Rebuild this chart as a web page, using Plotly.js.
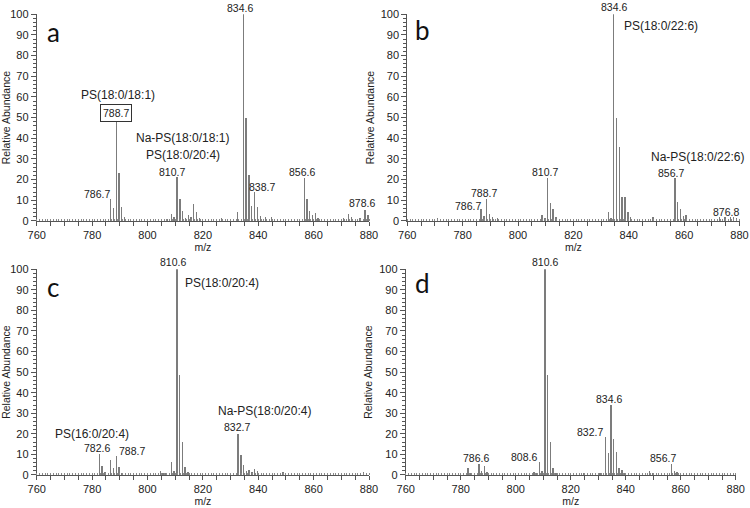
<!DOCTYPE html>
<html>
<head>
<meta charset="utf-8">
<script src="https://cdn.plot.ly/plotly-3.0.1.min.js"></script>
<style>html,body{margin:0;padding:0;background:#fff;}#chart{width:750px;height:508px;}</style>
</head>
<body>
<div id="chart"></div>
<script>
// ---- Data (m/z, relative abundance) ----
const aMz = [760.0, 786.7, 787.7, 788.7, 789.7, 790.7, 791.7, 807.0, 808.6, 809.6, 810.7, 811.7, 812.7, 813.7, 814.7, 815.7, 816.7, 817.7, 818.7, 826.7, 832.6, 834.6, 835.6, 836.6, 837.6, 838.7, 839.7, 840.7, 842.7, 844.7, 856.6, 857.6, 858.6, 859.6, 860.6, 861.6, 870.7, 872.7, 873.7, 876.7, 878.6, 879.6];
const aAb = [2.0, 10.5, 6.3, 50.0, 23.0, 6.8, 1.8, 1.0, 3.2, 2.0, 21.4, 10.6, 5.0, 1.6, 3.0, 2.0, 8.0, 4.2, 1.3, 1.2, 4.5, 100, 50.0, 22.0, 7.4, 13.8, 6.8, 2.4, 1.8, 1.8, 21.0, 10.8, 5.0, 3.0, 3.7, 1.6, 1.4, 3.5, 1.8, 1.3, 5.5, 2.9];

const bMz = [771.0, 786.7, 787.7, 788.7, 789.7, 790.7, 792.7, 808.7, 809.7, 810.7, 811.7, 812.7, 813.7, 832.6, 833.6, 834.6, 835.6, 836.6, 837.6, 838.6, 839.7, 840.7, 848.7, 856.7, 857.7, 858.7, 859.7, 860.7, 872.8, 874.8, 876.8, 877.8, 879.0];
const bAb = [1.2, 5.8, 2.4, 10.5, 3.5, 1.8, 1.3, 3.0, 1.3, 21.0, 8.9, 5.6, 1.8, 4.2, 1.3, 100, 50.0, 35.7, 11.6, 11.6, 4.2, 1.8, 2.0, 20.6, 9.3, 6.0, 2.6, 2.9, 1.8, 1.8, 2.0, 1.8, 1.3];

const cMz = [760.0, 782.6, 783.6, 784.6, 786.7, 787.7, 788.7, 789.7, 790.7, 804.6, 805.6, 806.6, 808.6, 809.6, 810.6, 811.6, 812.6, 813.6, 814.6, 832.7, 833.7, 834.7, 835.7, 836.7, 837.7, 838.7, 839.7, 849.0, 878.0];
const cAb = [1.8, 10.2, 4.5, 1.5, 7.3, 3.6, 9.4, 4.0, 1.1, 1.8, 1.1, 1.1, 6.3, 1.8, 100, 48.4, 16.2, 4.0, 1.3, 19.9, 9.7, 4.9, 1.8, 2.4, 1.3, 2.9, 1.8, 1.3, 1.3];

const dMz = [782.6, 783.6, 786.6, 787.6, 788.6, 789.6, 797.0, 806.6, 807.6, 808.6, 809.6, 810.6, 811.6, 812.6, 813.6, 814.6, 824.6, 830.6, 832.7, 833.7, 834.6, 835.6, 836.6, 837.6, 838.6, 839.6, 848.7, 849.7, 856.7, 857.7, 858.7];
const dAb = [3.6, 1.0, 5.3, 2.1, 4.5, 1.5, 1.0, 1.5, 1.0, 6.1, 1.9, 100, 48.4, 16.2, 3.6, 1.0, 1.0, 1.0, 18.3, 10.5, 34.1, 17.3, 11.0, 3.6, 2.6, 1.0, 1.9, 1.0, 5.3, 2.1, 1.5];

const xTickVals = [760, 765, 770, 775, 780, 785, 790, 795, 800, 805, 810, 815, 820, 825, 830, 835, 840, 845, 850, 855, 860, 865, 870, 875, 880];
const xTickText = ['760', '', '', '', '780', '', '', '', '800', '', '', '', '820', '', '', '', '840', '', '', '', '860', '', '', '', '880'];
const yTickVals = [0, 10, 20, 30, 40, 50, 60, 70, 80, 90, 100];

const panelLetters = ['a', 'b', 'c', 'd'];

// peak / compound labels: [text, m/z, abundance, kind]
const aLabels = [['834.6', 833.4, 103.2, 'n'], ['PS(18:0/18:1)', 789.3, 60.9, 'c'], ['788.7', 788.7, 52.0, 'box'],
  ['Na-PS(18:0/18:1)', 812.8, 40.0, 'c'], ['PS(18:0/20:4)', 812.8, 31.9, 'c'], ['810.7', 809.0, 23.8, 'n'],
  ['786.7', 781.6, 13.0, 'n'], ['838.7', 841.2, 16.6, 'n'], ['856.6', 855.7, 23.5, 'n'], ['878.6', 877.3, 8.5, 'n']];
const bLabels = [['834.6', 834.5, 103.5, 'n'], ['PS(18:0/22:6)', 851.7, 94.2, 'c'], ['Na-PS(18:0/22:6)', 864.7, 31.1, 'c'],
  ['856.7', 855.3, 23.0, 'n'], ['810.7', 809.6, 23.5, 'n'], ['788.7', 787.7, 13.4, 'n'], ['786.7', 781.8, 7.4, 'n'],
  ['876.8', 875.1, 4.5, 'n']];
const cLabels = [['810.6', 809.3, 103.7, 'n'], ['PS(18:0/20:4)', 827.0, 93.5, 'c'], ['Na-PS(18:0/20:4)', 842.4, 31.2, 'c'],
  ['832.7', 832.4, 23.1, 'n'], ['PS(16:0/20:4)', 779.8, 19.9, 'c'], ['782.6', 781.6, 13.1, 'n'], ['788.7', 794.4, 11.8, 'n']];
const dLabels = [['810.6', 810.8, 103.7, 'n'], ['834.6', 833.9, 36.9, 'n'], ['832.7', 826.9, 20.7, 'n'],
  ['808.6', 802.9, 8.9, 'n'], ['786.6', 785.5, 8.1, 'n'], ['856.7', 853.6, 8.1, 'n']];

// ---- Build ----
const series = [[aMz, aAb], [bMz, bAb], [cMz, cAb], [dMz, dAb]];
const labelSets = [aLabels, bLabels, cLabels, dLabels];
const letterPos = [[765.9, 91.4], [765.6, 92.6], [765.9, 91.6], [766.1, 93.5]];
const domainsX = [[0.049, 0.492], [0.543, 0.986], [0.049, 0.492], [0.541, 0.981]];
const domainsY = [[0.565, 0.972], [0.565, 0.972], [0.065, 0.470], [0.065, 0.470]];

const barColor = '#7c7c7c';
const axisColor = '#555555';
const textColor = '#222222';
const FONT = '"Liberation Sans", Arial, sans-serif';

const traces = series.map((s, i) => ({
  type: 'bar', x: s[0], y: s[1], width: 0.5,
  marker: { color: barColor, line: { width: 0 } },
  xaxis: i === 0 ? 'x' : 'x' + (i + 1), yaxis: i === 0 ? 'y' : 'y' + (i + 1),
  hoverinfo: 'x+y', showlegend: false
}));

const layout = {
  width: 750, height: 508,
  margin: { l: 0, r: 0, t: 0, b: 0 },
  paper_bgcolor: '#ffffff', plot_bgcolor: '#ffffff',
  font: { family: FONT, color: textColor, size: 11 },
  bargap: 0, showlegend: false, annotations: []
};

for (let i = 0; i < 4; i++) {
  const sfx = i === 0 ? '' : String(i + 1);
  layout['xaxis' + sfx] = {
    domain: domainsX[i], range: [760, 880], anchor: 'y' + sfx,
    tickmode: 'array', tickvals: xTickVals, ticktext: xTickText,
    ticks: 'outside', ticklen: 4, tickwidth: 1, tickcolor: axisColor,
    ticklabeloverflow: 'allow',
    minor: { tick0: 760, dtick: 1, ticks: 'inside', ticklen: 2, tickwidth: 1, tickcolor: '#8a8a8a' },
    showline: true, linecolor: axisColor, linewidth: 1,
    showgrid: false, zeroline: false, fixedrange: true,
    tickfont: { size: 11, color: textColor, family: FONT },
    title: { text: 'm/z', font: { size: 10.5, color: textColor, family: FONT }, standoff: 0 }
  };
  layout['yaxis' + sfx] = {
    domain: domainsY[i], range: [0, 100], anchor: 'x' + sfx,
    tickmode: 'array', tickvals: yTickVals,
    ticks: 'outside', ticklen: 5, tickwidth: 1, tickcolor: axisColor,
    ticklabeloverflow: 'allow',
    minor: { tick0: 0, dtick: 2, ticks: 'outside', ticklen: 3, tickwidth: 1, tickcolor: axisColor },
    showline: true, linecolor: axisColor, linewidth: 1,
    showgrid: false, zeroline: false, fixedrange: true,
    tickfont: { size: 11, color: textColor, family: FONT },
    title: { text: 'Relative Abundance', font: { size: 10.5, color: textColor, family: FONT }, standoff: 4 }
  };
  const xr = 'x' + sfx, yr = 'y' + sfx + ' domain';
  labelSets[i].forEach(l => {
    const ann = {
      xref: xr, yref: yr, x: l[1], y: l[2] / 100, text: l[0], showarrow: false,
      xanchor: 'center', yanchor: 'middle',
      font: { family: FONT, size: l[3] === 'c' ? 12 : 10.5, color: textColor }
    };
    if (l[3] === 'box') { ann.bordercolor = '#333333'; ann.borderwidth = 1; ann.borderpad = 2; ann.bgcolor = '#ffffff'; }
    layout.annotations.push(ann);
  });
  layout.annotations.push({
    xref: xr, yref: yr, x: letterPos[i][0], y: letterPos[i][1] / 100, text: panelLetters[i], showarrow: false,
    xanchor: 'center', yanchor: 'middle', font: { family: 'Lato, "Open Sans", sans-serif', size: 26, color: '#111111' }
  });
}

Plotly.newPlot('chart', traces, layout, { displayModeBar: false, staticPlot: true });
</script>
</body>
</html>
